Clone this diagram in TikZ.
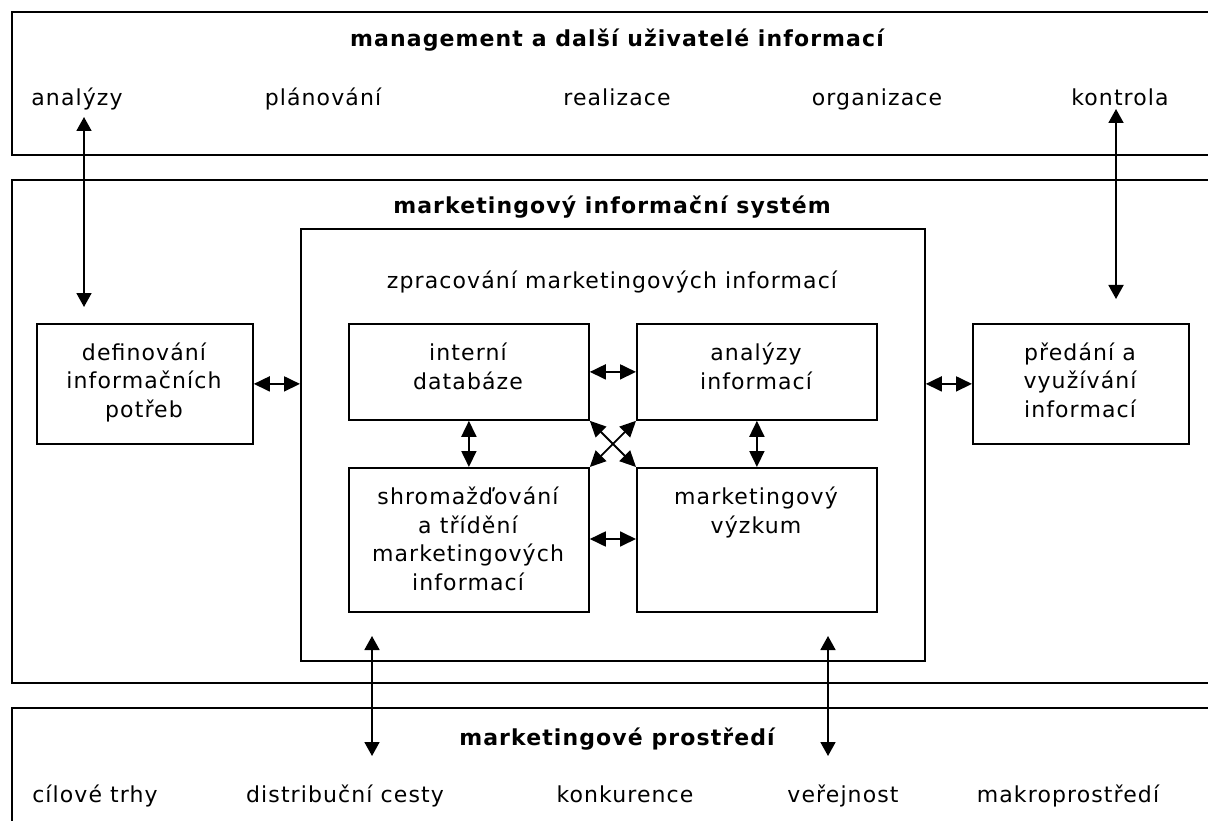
\documentclass[tikz,border=0pt]{standalone}
\usepackage{fontspec}
\setmainfont{DejaVu Sans}[LetterSpace=5.0]
\usetikzlibrary{arrows.meta}
\begin{document}
\begin{tikzpicture}[x=1pt,y=-1pt,
  every node/.style={font=\fontsize{22}{28.5}\selectfont},
  frame/.style={draw,line width=1.8pt},
  box/.style={draw,line width=1.8pt,inner sep=0pt,anchor=north west},
  txt/.style={align=center,inner sep=0pt,anchor=base},
  head/.style={font=\fontsize{22}{28.5}\selectfont\bfseries,inner sep=0pt,anchor=base},
  link/.style={line width=1.8pt,{Triangle[length=14pt,width=15pt]}-{Triangle[length=14pt,width=15pt]}},
  slink/.style={line width=1.8pt,{Triangle[length=16pt,width=15pt]}-{Triangle[length=16pt,width=15pt]}}]
\clip (0,0) rectangle (1208,821);
\useasboundingbox (0,0) rectangle (1208,821);
% outer frames
\draw[frame] (1240,12) -- (12,12) -- (12,155) -- (1240,155);
\draw[frame] (1240,180) -- (12,180) -- (12,683) -- (1240,683);
\draw[frame] (1240,708) -- (12,708) -- (12,850);
% top texts
\node[head] (mgmt) at (617,47) {management a další uživatelé informací};
\node[txt] (t1) at (77,106) {analýzy};
\node[txt] (t2) at (323,106) {plánování};
\node[txt] (t3) at (617,106) {realizace};
\node[txt] (t4) at (877,106) {organizace};
\node[txt] (t5) at (1120,106) {kontrola};
% middle
\node[head] (mis) at (612,214) {marketingový informační systém};
\node[box,minimum width=624pt,minimum height=432pt] (proc) at (300,228) {};
\node[txt] (proct) at (612,289) {zpracování marketingových informací};
\node[box,minimum width=216pt,minimum height=120pt] (def) at (36,323) {};
\node[txt] (deft) at (144,417) {definování\\informačních\\potřeb};
\node[box,minimum width=216pt,minimum height=120pt] (pred) at (972,323) {};
\node[txt] (predt) at (1080,417) {předání a\\využívání\\informací};
\node[box,minimum width=240pt,minimum height=96pt] (int) at (348,323) {};
\node[txt] (intt) at (468,389) {interní\\databáze};
\node[box,minimum width=240pt,minimum height=96pt] (ana) at (636,323) {};
\node[txt] (anat) at (756,389) {analýzy\\informací};
\node[box,minimum width=240pt,minimum height=144pt] (shr) at (348,467) {};
\node[txt] (shrt) at (468,590) {shromažďování\\a třídění\\marketingových\\informací};
\node[box,minimum width=240pt,minimum height=144pt] (vyz) at (636,467) {};
\node[txt] (vyzt) at (756,533) {marketingový\\výzkum};
% bottom
\node[head] (env) at (617,745) {marketingové prostředí};
\node[txt] (b1) at (95,802) {cílové trhy};
\node[txt] (b2) at (345,802) {distribuční cesty};
\node[txt] (b3) at (625,802) {konkurence};
\node[txt] (b4) at (843,802) {veřejnost};
\node[txt] (b5) at (1068,802) {makroprostředí};
% free ends
\coordinate (a1) at (84,117);
\coordinate (a2) at (84,307);
\coordinate (k1) at (1116,109);
\coordinate (k2) at (1116,299);
\coordinate (d1) at (372,636);
\coordinate (d2) at (372,756);
\coordinate (v1) at (828,636);
\coordinate (v2) at (828,756);
% connectors
\draw[link] (a1) -- (a2);
\draw[link] (k1) -- (k2);
\draw[link] (d1) -- (d2);
\draw[link] (v1) -- (v2);
\draw[slink] (def.east) -- (def.east -| proc.west);
\draw[slink] (pred.west) -- (pred.west -| proc.east);
\draw[slink] (int.east) -- (ana.west);
\draw[slink] (shr.east |- 0,539) -- (vyz.west |- 0,539);
\draw[slink] (int.south) -- (shr.north);
\draw[slink] (ana.south) -- (vyz.north);
\draw[slink] (int.south east) -- (vyz.north west);
\draw[slink] (ana.south west) -- (shr.north east);
\end{tikzpicture}
\end{document}
